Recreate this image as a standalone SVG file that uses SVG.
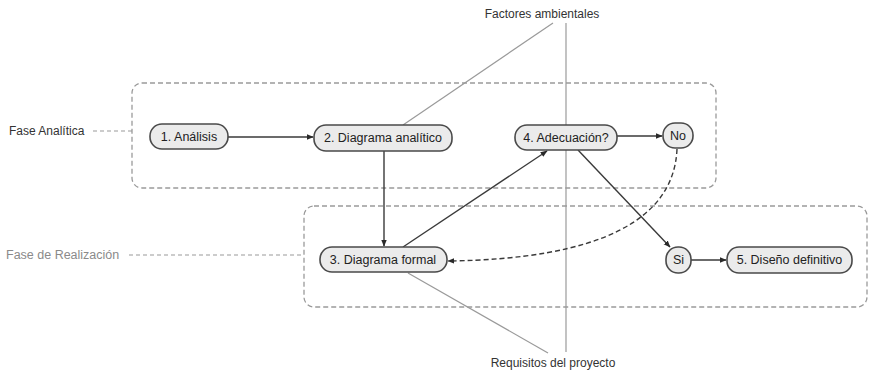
<svg xmlns="http://www.w3.org/2000/svg" width="869" height="372" viewBox="0 0 869 372">
  <style>
    text { font-family: "Liberation Sans", Arial, sans-serif; }
    .phase { fill: none; stroke: #9a9a9a; stroke-width: 1.3; stroke-dasharray: 5 3; }
    .lead { fill: none; stroke: #9a9a9a; stroke-width: 1.2; stroke-dasharray: 4 3; }
    .node { fill: #ebebeb; stroke: #4a4a4a; stroke-width: 1.6; }
    .ntext { font-size: 12.5px; fill: #222; text-anchor: middle; }
    .edge { fill: none; stroke: #3a3a3a; stroke-width: 1.4; }
    .dashedge { fill: none; stroke: #3a3a3a; stroke-width: 1.4; stroke-dasharray: 5 3; }
    .factor { fill: none; stroke: #9a9a9a; stroke-width: 1.2; }
    .label { font-size: 12px; fill: #333; }
    .label-grey { font-size: 12.5px; fill: #8a8a8a; }
  </style>
  <defs>
    <marker id="arrow" viewBox="0 0 10 10" refX="9" refY="5" markerWidth="7" markerHeight="7" orient="auto-start-reverse" markerUnits="userSpaceOnUse">
      <path d="M0,1 L10,5 L0,9 z" fill="#2a2a2a"/>
    </marker>
  </defs>

  <rect width="869" height="372" fill="#ffffff"/>

  <!-- phase frames -->
  <g id="phases">
    <rect class="phase" x="132" y="83" width="584" height="105" rx="10"/>
    <rect class="phase" x="304" y="206" width="563" height="101" rx="10"/>
    <path class="lead" d="M93,131 H132"/>
    <path class="lead" d="M129,255 H304"/>
    <text class="label" x="9" y="135">Fase Analítica</text>
    <text class="label-grey" x="6" y="259">Fase de Realización</text>
  </g>

  <!-- external factors -->
  <g id="factors">
    <path class="factor" d="M553,23 L403,125"/>
    <path class="factor" d="M566,23 V352"/>
    <path class="factor" d="M408,273 L548,353"/>
    <text class="label" x="542" y="18" text-anchor="middle">Factores ambientales</text>
    <text class="label" x="553" y="367" text-anchor="middle">Requisitos del proyecto</text>
  </g>

  <!-- connectors -->
  <g id="connectors">
    <path class="edge" d="M228,137 H313" marker-end="url(#arrow)"/>
    <path class="edge" d="M384,151 V246" marker-end="url(#arrow)"/>
    <path class="edge" d="M403,247 L547,151" marker-end="url(#arrow)"/>
    <path class="edge" d="M617,136 H662" marker-end="url(#arrow)"/>
    <path class="edge" d="M578,150 L670,247" marker-end="url(#arrow)"/>
    <path class="edge" d="M691,260 H726" marker-end="url(#arrow)"/>
    <path class="dashedge" d="M677,149 C674,220 600,259 448,261" marker-end="url(#arrow)"/>
  </g>

  <!-- nodes -->
  <g id="n1">
    <rect class="node" x="150" y="124" width="78" height="25" rx="12"/>
    <text class="ntext" x="189" y="141">1. Análisis</text>
  </g>
  <g id="n2">
    <rect class="node" x="314" y="125" width="138" height="26" rx="12"/>
    <text class="ntext" x="383" y="142">2. Diagrama analítico</text>
  </g>
  <g id="n3">
    <rect class="node" x="320" y="247" width="127" height="25" rx="12"/>
    <text class="ntext" x="383" y="264">3. Diagrama formal</text>
  </g>
  <g id="n4">
    <rect class="node" x="515" y="125" width="102" height="25" rx="12"/>
    <text class="ntext" x="566" y="142">4. Adecuación?</text>
  </g>
  <g id="no">
    <rect class="node" x="663" y="123" width="30" height="25" rx="12"/>
    <text class="ntext" x="678" y="140">No</text>
  </g>
  <g id="si">
    <rect class="node" x="666" y="247" width="25" height="26" rx="12"/>
    <text class="ntext" x="678.5" y="264">Si</text>
  </g>
  <g id="n5">
    <rect class="node" x="727" y="247" width="125" height="26" rx="12"/>
    <text class="ntext" x="789.5" y="264">5. Diseño definitivo</text>
  </g>
</svg>
